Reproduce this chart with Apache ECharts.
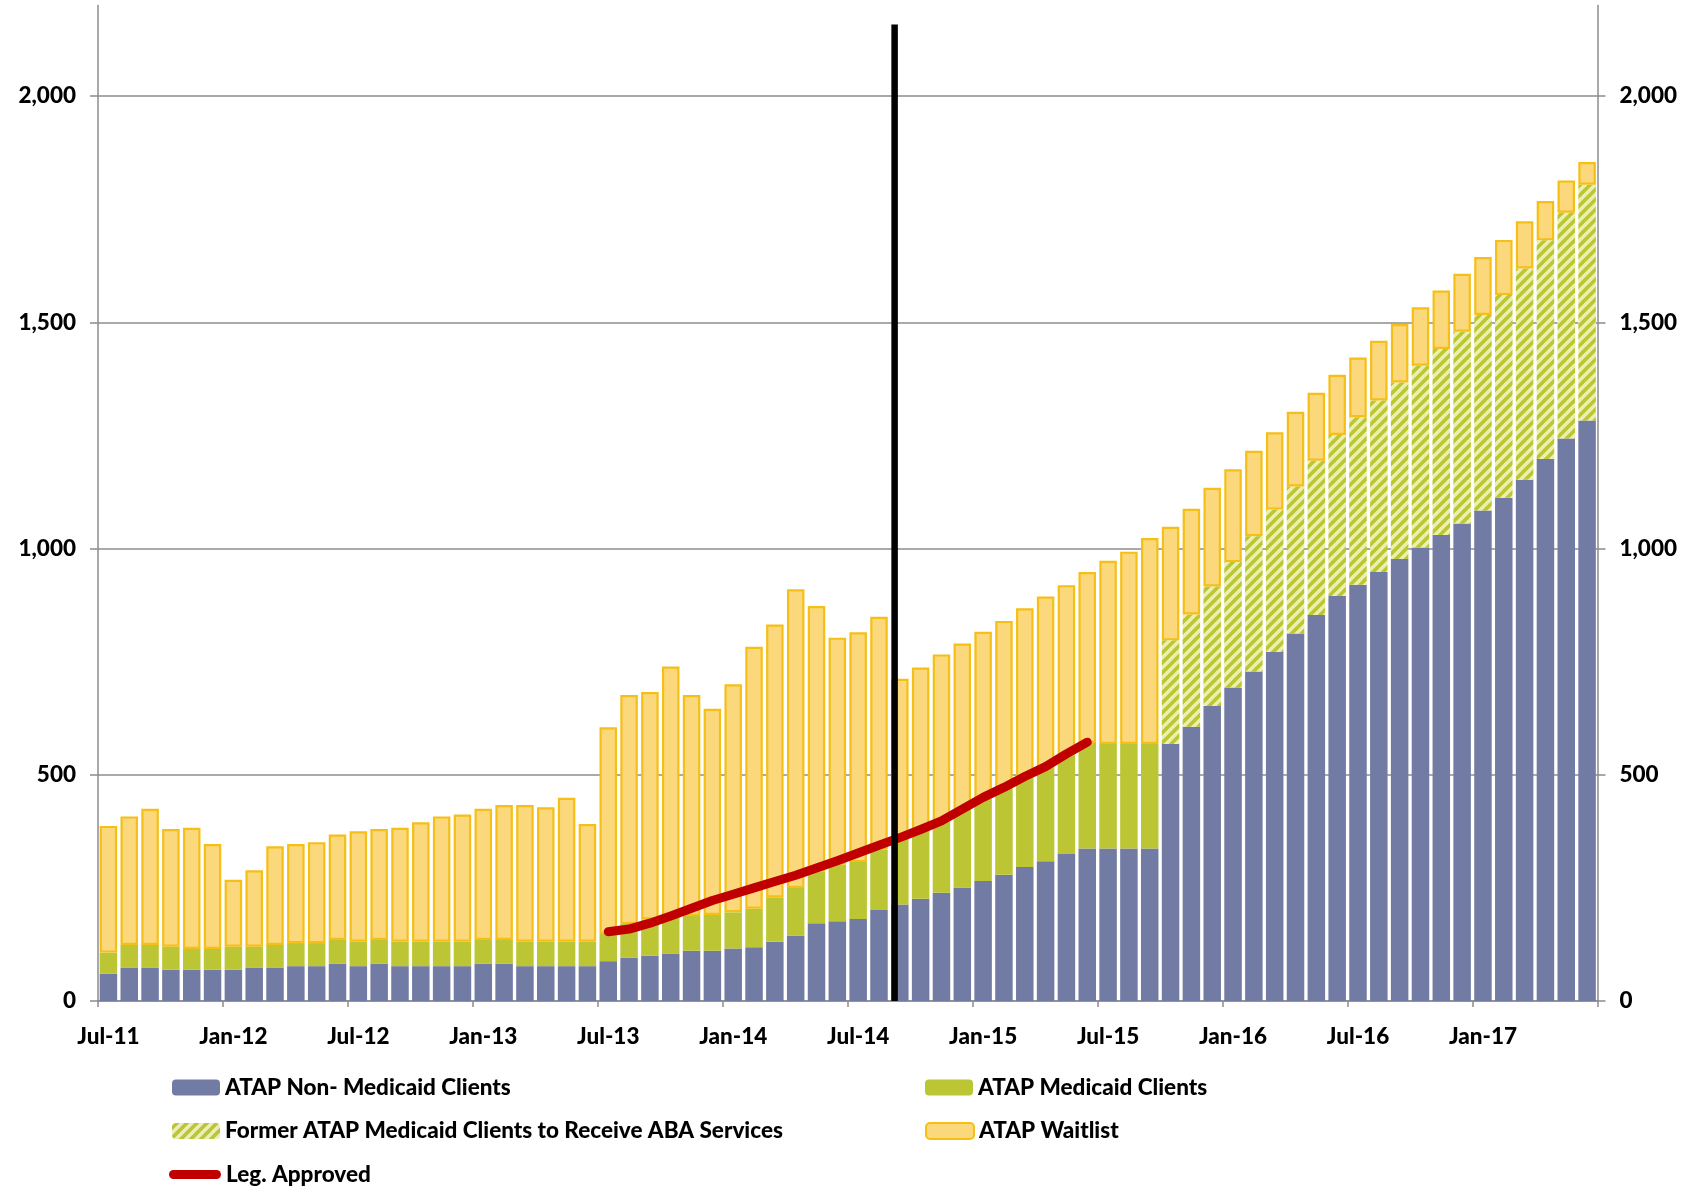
<!DOCTYPE html>
<html>
<head>
<meta charset="utf-8">
<script src="https://cdn.jsdelivr.net/npm/echarts@6/dist/echarts.min.js"></script>
<style>
html,body{margin:0;padding:0;background:#fff;}
#chart{width:1691px;height:1189px;}
</style>
</head>
<body>
<div id="chart"></div>
<script>
const months = ['Jul-11','Aug-11','Sep-11','Oct-11','Nov-11','Dec-11','Jan-12','Feb-12','Mar-12','Apr-12','May-12','Jun-12',
'Jul-12','Aug-12','Sep-12','Oct-12','Nov-12','Dec-12','Jan-13','Feb-13','Mar-13','Apr-13','May-13','Jun-13',
'Jul-13','Aug-13','Sep-13','Oct-13','Nov-13','Dec-13','Jan-14','Feb-14','Mar-14','Apr-14','May-14','Jun-14',
'Jul-14','Aug-14','Sep-14','Oct-14','Nov-14','Dec-14','Jan-15','Feb-15','Mar-15','Apr-15','May-15','Jun-15',
'Jul-15','Aug-15','Sep-15','Oct-15','Nov-15','Dec-15','Jan-16','Feb-16','Mar-16','Apr-16','May-16','Jun-16',
'Jul-16','Aug-16','Sep-16','Oct-16','Nov-16','Dec-16','Jan-17','Feb-17','Mar-17','Apr-17','May-17','Jun-17'];

const nonMedicaid = [60,73,73,69,69,69,69,73,73,77,77,82,77,82,77,77,77,77,82,82,77,77,77,77,
88,96,100,104,111,111,116,119,131,144,172,176,181,201,213,226,239,251,265,279,296,309,325,337,
337,337,337,568,606,652,693,728,771,812,853,895,920,948,977,1002,1030,1055,1084,1112,1152,1198,1243,1283];

const medicaid = [47,51,51,51,46,46,51,47,51,51,51,53,54,53,54,54,54,54,53,53,54,54,54,54,
60,74,80,83,77,79,80,85,98,106,115,125,126,134,145,150,158,171,182,191,198,207,218,233,
231,231,231,0,0,0,0,0,0,0,0,0,0,0,0,0,0,0,0,0,0,0,0,0];

const formerMedicaidABA = [null,null,null,null,null,null,null,null,null,null,null,null,
null,null,null,null,null,null,null,null,null,null,null,null,
null,null,null,null,null,null,null,null,null,null,null,null,
null,null,null,null,null,null,null,null,null,null,null,null,
null,null,null,229,248,264,277,299,315,325,341,356,370,379,390,402,411,424,432,448,467,483,499,521];

const waitlist = [280,284,301,260,268,232,148,169,218,219,223,233,244,245,252,264,277,281,290,298,302,297,318,260,
457,506,503,552,488,456,504,579,603,660,586,502,508,514,354,361,369,368,369,370,374,378,376,378,
405,425,455,251,234,218,205,189,171,165,150,133,132,132,129,129,129,128,128,122,104,87,71,50];

const legApproved = [null,null,null,null,null,null,null,null,null,null,null,null,
null,null,null,null,null,null,null,null,null,null,null,null,
153,159,172,188,205,222,236,250,264,278,294,310,327,344,361,379,398,424,450,472,496,518,546,572,
null,null,null,null,null,null,null,null,null,null,null,null,
null,null,null,null,null,null,null,null,null,null,null,null];

const yTicks = [0,500,1000,1500,2000];
const yMax = 2200;
// vertical divider: position on a month-index scale and its top value
const dividerLine = [[38.25, 0],[38.25, 2158]];

const FONT = 'Lato';
const GRID = '#8c8c8c';
const C_BLUE = '#727BA3', C_GREEN = '#BCC634', C_WAIT = '#FAD87B', C_WAIT_B = '#F5BF17', C_RED = '#C00000';

function makeHatch(){
  const s = 10;
  const c = document.createElement('canvas'); c.width = s; c.height = s;
  const g = c.getContext('2d');
  g.fillStyle = C_GREEN; g.fillRect(0,0,s,s);
  g.strokeStyle = 'rgba(236,241,190,0.95)'; g.lineWidth = 3.4;
  g.beginPath();
  g.moveTo(-2,s+2); g.lineTo(s+2,-2);
  g.moveTo(-2,2); g.lineTo(2,-2);
  g.moveTo(s-2,s+2); g.lineTo(s+2,s-2);
  g.stroke();
  return c;
}
const hatch = {image: makeHatch(), repeat: 'repeat'};

const chart = echarts.init(document.getElementById('chart'), null, {renderer:'canvas'});
const txt = {fontFamily: FONT, fontWeight: 900, fontSize: 22.5, color: '#000'};
const legBase = {padding: 0, itemWidth: 48, itemHeight: 16, selectedMode: false, textStyle: txt, orient: 'horizontal'};
const capsule = 'path://M4.5,0 L47.5,0 A4.5,4.5 0 0 1 47.5,9 L4.5,9 A4.5,4.5 0 0 1 4.5,0 Z';
const fmt = v => Number(v).toLocaleString('en-US');

const yAxisBase = {
  type: 'value', min: 0, max: yMax, interval: 500,
  axisLine: {show: true, lineStyle: {color: GRID, width: 1.5}},
  axisTick: {show: true, inside: false, length: 8, lineStyle: {color: GRID, width: 1.5}, customValues: yTicks},
  axisLabel: {customValues: yTicks, formatter: fmt, margin: 22, ...txt}
};

chart.setOption({
  animation: false,
  backgroundColor: '#fff',
  grid: {left: 98, right: 93.5, top: 5.5, bottom: 188, containLabel: false},
  legend: [
    {...legBase, left: 172, top: 1076, data: ['ATAP Non- Medicaid Clients']},
    {...legBase, left: 925, top: 1076, data: ['ATAP Medicaid Clients']},
    {...legBase, left: 172, top: 1119.5, data: ['Former ATAP Medicaid Clients to Receive ABA Services']},
    {...legBase, left: 925, top: 1119.5, data: ['ATAP Waitlist']},
    {...legBase, left: 169, top: 1163, itemWidth: 52, itemHeight: 9, data: [{name: 'Leg. Approved', icon: capsule}]}
  ],
  xAxis: [
    {
      type: 'category', data: months, boundaryGap: true,
      axisLine: {show: true, lineStyle: {color: GRID, width: 1.5}},
      axisTick: {show: true, interval: 5, length: 6, alignWithLabel: false, lineStyle: {color: GRID, width: 1.5}},
      axisLabel: {interval: 5, margin: 24, ...txt},
      splitLine: {show: false}
    },
    {type: 'value', min: 0, max: months.length, show: false}
  ],
  yAxis: [
    {...yAxisBase, position: 'left',
      splitLine: {show: true, lineStyle: {color: GRID, width: 1.5}}},
    {...yAxisBase, position: 'right', splitLine: {show: false}}
  ],
  series: [
    {name: 'ATAP Non- Medicaid Clients', type: 'bar', stack: 'total', data: nonMedicaid,
      barCategoryGap: '16%', itemStyle: {color: C_BLUE}},
    {name: 'ATAP Medicaid Clients', type: 'bar', stack: 'total', data: medicaid,
      itemStyle: {color: C_GREEN}},
    {name: 'Former ATAP Medicaid Clients to Receive ABA Services', type: 'bar', stack: 'total', data: formerMedicaidABA,
      itemStyle: {color: hatch}},
    {name: 'ATAP Waitlist', type: 'bar', stack: 'total', data: waitlist,
      itemStyle: {color: C_WAIT, borderColor: C_WAIT_B, borderWidth: 2.2}},
    {name: 'Leg. Approved', type: 'line', data: legApproved, symbol: 'none', z: 5,
      itemStyle: {color: C_RED},
      lineStyle: {color: C_RED, width: 9, cap: 'round', join: 'round'}},
    {name: 'divider', type: 'line', xAxisIndex: 1, yAxisIndex: 0, data: dividerLine, symbol: 'none', z: 6,
      lineStyle: {color: '#000', width: 6.5}, silent: true}
  ]
});
</script>
</body>
</html>
